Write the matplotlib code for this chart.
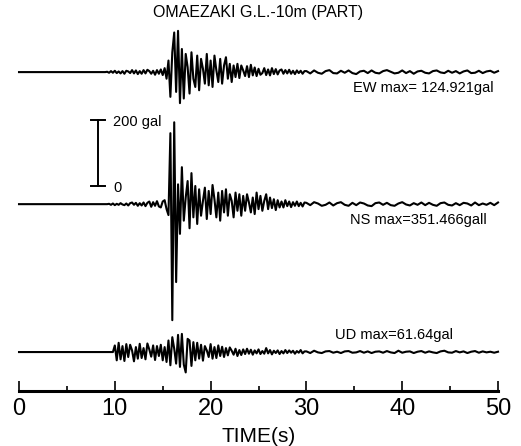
import numpy as np
import matplotlib
matplotlib.use('Agg')
import matplotlib.pyplot as plt

plt.rcParams['font.family'] = ['Liberation Sans', 'DejaVu Sans']

strong_t0 = 9.0
strong_dt = 0.2
# Coda part sampled every 0.4 s from 30.0 s to 50.0 s
coda_t0 = 30.0
coda_dt = 0.4

ew_strong = [0, 1, -2, 3, -2, 4, -3, 2, -4, 3,
             -5, 4, 2, -3, 6, -4, 5, -6, 3, -5,
             6, -4, 7, 3, -5, 4, -8, 6, -5, 8,
             -9, 12, -20, 35, -75, 60, 120, -60, 124.921, -94,
             70, -80, 55, 15, -65, 60, -20, -45, 50, -55,
             40, 10, -35, 55, -40, 35, -45, 50, 5, -30,
             40, -35, 20, 45, -20, 25, -30, 20, -15, 25,
             -18, 20, 5, -12, 18, -15, 22, -10, 14, -12,
             10, -8, -3, 12, -9, 8, -10, 12, -6, 9,
             -7, 5, 8, -5, 6, -4, 7, -5, 4, -6, 5, -3, 4, -5, 3]
ew_coda = [3, -4, 5, -2, -5, 3, 6, -3, -4, 4,
           -2, 5, -3, -6, 2, 4, -3, 5, -2, -4,
           3, 6, 1, -4, -2, 5, -3, 3, -5, 2,
           4, -2, -4, 3, 5, -1, -3, 4, -2, 3,
           -4, 2, 5, -3, -2, 4, -3, 2, 4, -2, 3]

ns_strong = [0, 0, 1, -2, 2, -3, 1, -2, 3, -1,
             -3, 2, -4, 3, 5, -2, 4, -5, 3, -4,
             5, -6, 4, 8, -8, 6, -5, 9, -7, -10,
             8, 12, -15, -33, 215, -351.466, 248, -236, 60, -90,
             112, -50, 20, 70, -73, 94, -40, 55, -60, 45,
             -35, 10, 50, -45, 40, -30, 58, 15, -40, 35,
             -50, 40, -25, 45, -35, 30, 10, -40, 35, -20,
             30, -35, 25, -20, 30, 5, -25, 20, -30, 35,
             -15, 25, -20, 10, 30, -15, 20, -12, 15, -18,
             12, -10, 8, -10, 12, -6, 8, -9, 6, -5, 8, -6, 4, -7, 5]
ns_coda = [4, -3, 6, 2, -5, -2, 5, -4, 3, 6,
           -2, -5, 4, -3, 5, 2, -4, -6, 3, 5,
           -2, 4, -3, -5, 2, 6, -1, -4, 3, -2,
           5, -3, 4, -2, -5, 3, 5, -2, -4, 3,
           -3, 4, 2, -4, 5, -3, 2, -2, 4, -3, 5]

ud_strong = [0, 0, 0, 0, 0, 20, -25, 28, -22, 18,
             -27, 24, -15, 22, 5, -28, 15, -20, 25, -18,
             12, -22, 26, 8, -14, 20, -24, 18, -12, 22,
             -25, 15, -30, 35, -40, 45, 10, -35, 52, -45,
             55, -38, -61.64, 40, 35, -42, 30, -25, 28, -20,
             22, -26, 18, 5, -15, 24, -20, 15, -18, 20,
             -12, 16, -15, 12, -10, 14, 4, -8, 10, -12,
             6, -9, 8, -6, 10, -5, 7, -8, 5, -4,
             8, -6, 3, -5, 12, -4, 6, -7, 4, -3,
             5, -6, 3, -4, 6, -3, 5, -2, 4, -5, 3, -2, 6, -4, 2]
ud_coda = [2, -3, 4, -1, -3, 2, 3, -2, 1, -3,
           2, 3, -2, -1, 3, -2, 2, -3, 1, 2,
           -2, 3, -1, -3, 4, -2, 1, 2, -3, 1,
           3, -2, 2, -1, -3, 2, 4, -1, -2, 3,
           -1, 2, -3, 1, 3, -2, 2, -1, 1, -2, 1]

components = ['EW', 'NS', 'UD']
max_labels = ['EW max= 124.921gal', 'NS max=351.466gall', 'UD max=61.64gal']
offsets = [400, 0, -448]  # vertical spacing between traces, gal


def build_trace(strong, coda):
    t = [0.0]
    a = [0.0]
    t += list(strong_t0 + strong_dt * np.arange(len(strong)))
    a += list(strong)
    t += list(coda_t0 + coda_dt * np.arange(len(coda)))
    a += list(coda)
    return np.array(t), np.array(a, dtype=float)


fig = plt.figure(figsize=(5.21, 4.46), dpi=100)
ax = fig.add_axes([0.0365, 0.1233, 0.9194, 0.832])

traces = [(ew_strong, ew_coda), (ns_strong, ns_coda), (ud_strong, ud_coda)]
for (strong, coda), off in zip(traces, offsets):
    t, a = build_trace(strong, coda)
    ax.plot(t, a + off, color='black', lw=1.5, clip_on=False)

# max labels
ax.text(49.5, offsets[0] - 48, max_labels[0], ha='right', va='center', fontsize=10.5)
ax.text(48.8, offsets[1] - 48, max_labels[1], ha='right', va='center', fontsize=10.5)
ax.text(45.3, offsets[2] + 51, max_labels[2], ha='right', va='center', fontsize=10.5)

# 200 gal scale bar
bar_x = 8.25
bar_lo, bar_hi = 55, 255
ax.plot([bar_x, bar_x], [bar_lo, bar_hi], color='black', lw=1.4)
ax.plot([bar_x - 0.75, bar_x + 0.75], [bar_hi, bar_hi], color='black', lw=1.4)
ax.plot([bar_x - 0.75, bar_x + 0.75], [bar_lo, bar_lo], color='black', lw=1.4)
ax.text(9.8, bar_hi - 5, '200 gal', ha='left', va='center', fontsize=10.5)
ax.text(9.8, bar_lo - 5, '0', ha='left', va='center', fontsize=10.5)

ax.set_xlim(0, 50)
ax.set_ylim(-566, 558)
ax.set_title('OMAEZAKI G.L.-10m (PART)', fontsize=11.5, pad=0)

for side in ['top', 'left', 'right']:
    ax.spines[side].set_visible(False)
ax.spines['bottom'].set_linewidth(2.2)
ax.set_yticks([])
ax.set_xticks(np.arange(0, 51, 10))
ax.set_xticks(np.arange(5, 50, 10), minor=True)
ax.tick_params(axis='x', which='major', direction='in', length=7, width=1.2,
               labelsize=17, pad=5)
ax.tick_params(axis='x', which='minor', direction='in', length=3.5, width=1.2)
ax.set_xlabel('TIME(s)', fontsize=15, labelpad=5)
ax.patch.set_alpha(0)

fig.savefig('out.png', dpi=100)
